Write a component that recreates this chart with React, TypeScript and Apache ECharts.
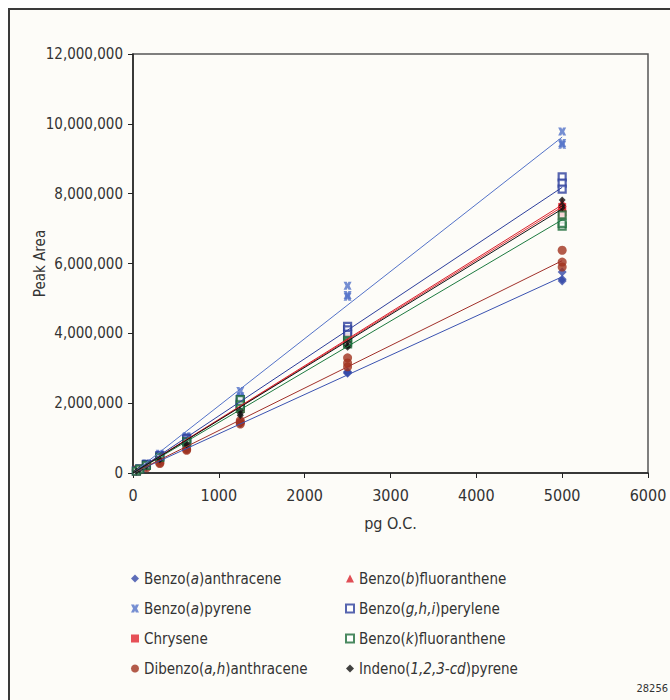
import React, { useEffect, useRef } from "react";
import * as echarts from "echarts";

const FONT = '"DejaVu Sans Condensed", "Liberation Sans Narrow", sans-serif';
const TEXT = "#333333";

// concentration levels (pg O.C.)
const levels = [39.06, 78.13, 156.25, 312.5, 625, 1250, 2500, 5000];
const xTickMax = 6000;
const yTickMax = 12000000;

// replicate peak areas per level, in millions
const anthraceneVals = [[0.045, 0.04], [0.085, 0.09], [0.17, 0.18], [0.34, 0.36, 0.35], [0.7, 0.72, 0.68], [1.42, 1.45, 1.43], [2.86, 2.9, 2.88], [5.76, 5.5, 5.55]];
const bFluorVals = [[0.06], [0.12], [0.23], [0.47], [0.95, 0.98], [1.9, 1.85], [3.88, 3.8, 3.75], [7.75, 7.6, 7.5]];
const pyreneVals = [[0.06], [0.13], [0.27, 0.25], [0.55, 0.52], [1.05, 1.0], [2.35, 2.2, 2.15], [5.36, 5.1, 5.05], [9.78, 9.45, 9.4]];
const peryleneVals = [[0.06], [0.12], [0.25, 0.24], [0.5, 0.48], [1.0, 0.97], [2.1, 2.0, 1.95], [4.2, 4.1, 3.97], [8.48, 8.3, 8.13]];
const chryseneVals = [[0.06], [0.12], [0.24], [0.47, 0.46], [0.95, 0.92], [1.95, 1.9, 1.85], [3.9, 3.85, 3.8], [7.62, 7.5, 7.4]];
const kFluorVals = [[0.05], [0.11], [0.22], [0.45], [0.9, 0.88], [2.1, 1.95, 1.85], [3.8, 3.75, 3.7], [7.39, 7.07, 7.15]];
const dibenzoVals = [[0.1, 0.08], [0.08], [0.15], [0.3, 0.27], [0.68, 0.65], [1.5, 1.45, 1.4], [3.3, 3.15, 3.04], [6.38, 6.04, 5.9]];
const indenoVals = [[0.05], [0.1], [0.2], [0.4, 0.38], [0.85, 0.8], [1.8, 1.7, 1.65], [3.75, 3.65, 3.6], [7.82, 7.67, 7.6]];

// fitted line value at 5000 pg, in millions
const fitEnds = {
  anthracene: 5.62,
  bFluor: 7.68,
  pyrene: 9.62,
  perylene: 8.18,
  chrysene: 7.62,
  kFluor: 7.25,
  dibenzo: 6.08,
  indeno: 7.56,
};

const xPath = "path://M0,0 L4,0 L5,2.5 L6,0 L10,0 L7.5,5 L10,10 L6,10 L5,7.5 L4,10 L0,10 L2.5,5 Z";

const seriesDefs = [
  { key: "anthracene", name: "Benzo(a)anthracene", rich: "{n|Benzo(}{i|a}{n|)anthracene}", vals: anthraceneVals, color: "#3448a8", line: "#3a52b0", symbol: "diamond", size: 9, hollow: false },
  { key: "pyrene", name: "Benzo(a)pyrene", rich: "{n|Benzo(}{i|a}{n|)pyrene}", vals: pyreneVals, color: "#5372c8", line: "#5372c8", symbol: xPath, size: 8, hollow: false },
  { key: "chrysene", name: "Chrysene", rich: "{n|Chrysene}", vals: chryseneVals, color: "#e0242e", line: "#e0303a", symbol: "rect", size: 8, hollow: false },
  { key: "dibenzo", name: "Dibenzo(a,h)anthracene", rich: "{n|Dibenzo(}{i|a,h}{n|)anthracene}", vals: dibenzoVals, color: "#a0321e", line: "#a0302a", symbol: "circle", size: 9, hollow: false },
  { key: "bFluor", name: "Benzo(b)fluoranthene", rich: "{n|Benzo(}{i|b}{n|)fluoranthene}", vals: bFluorVals, color: "#d8222c", line: "#d8222c", symbol: "triangle", size: 9, hollow: false },
  { key: "perylene", name: "Benzo(g,h,i)perylene", rich: "{n|Benzo(}{i|g,h,i}{n|)perylene}", vals: peryleneVals, color: "#2d3f9c", line: "#2d3f9c", symbol: "rect", size: 7, hollow: true },
  { key: "kFluor", name: "Benzo(k)fluoranthene", rich: "{n|Benzo(}{i|k}{n|)fluoranthene}", vals: kFluorVals, color: "#1d6b3a", line: "#1d7a40", symbol: "rect", size: 7, hollow: true },
  { key: "indeno", name: "Indeno(1,2,3-cd)pyrene", rich: "{n|Indeno(}{i|1,2,3-cd}{n|)pyrene}", vals: indenoVals, color: "#111111", line: "#111111", symbol: "diamond", size: 7, hollow: false },
];

const leftLegend = ["Benzo(a)anthracene", "Benzo(a)pyrene", "Chrysene", "Dibenzo(a,h)anthracene"];
const rightLegend = ["Benzo(b)fluoranthene", "Benzo(g,h,i)perylene", "Benzo(k)fluoranthene", "Indeno(1,2,3-cd)pyrene"];

const fmt = (v: number) => v.toLocaleString("en-US");

export default function App() {
  const ref = useRef<HTMLDivElement>(null);
  useEffect(() => {
    if (!ref.current) return;
    const chart = echarts.init(ref.current, undefined, { renderer: "svg" });
    const richMap: Record<string, string> = {};
    seriesDefs.forEach((s) => (richMap[s.name] = s.rich));
    const legendText = {
      color: TEXT,
      fontSize: 15,
      fontFamily: FONT,
      rich: {
        n: { fontSize: 15, fontFamily: FONT, color: TEXT },
        i: { fontSize: 15, fontFamily: FONT, color: TEXT, fontStyle: "italic" },
      },
    };
    const series: any[] = [];
    seriesDefs.forEach((s) => {
      series.push({
        type: "line",
        name: "fit " + s.key,
        data: [
          [0, 0],
          [5000, (fitEnds as any)[s.key] * 1e6],
        ],
        showSymbol: false,
        symbol: "none",
        lineStyle: { color: s.line, width: 1 },
        silent: true,
        z: 3,
      });
    });
    seriesDefs.forEach((s) => {
      const pts: number[][] = [];
      s.vals.forEach((reps, i) => reps.forEach((v) => pts.push([levels[i], v * 1e6])));
      series.push({
        type: "scatter",
        name: s.name,
        data: pts,
        symbol: s.symbol,
        symbolSize: s.size,
        itemStyle: s.hollow
          ? { color: "#ffffff", borderColor: s.color, borderWidth: 2.2 }
          : { color: s.color },
        z: 2,
      });
    });
    chart.setOption({
      animation: false,
      backgroundColor: "#fdfcf8",
      grid: { left: 125, right: 22, top: 46, bottom: 227, show: true, borderColor: "#555", borderWidth: 1.5, backgroundColor: "#fdfcf8" },
      xAxis: {
        type: "value",
        min: 0,
        max: xTickMax,
        interval: 1000,
        name: "pg O.C.",
        nameLocation: "middle",
        nameGap: 42,
        nameMoveOverlap: false,
        nameTextStyle: { color: TEXT, fontSize: 16, fontFamily: FONT },
        axisLine: { show: true, lineStyle: { color: "#222", width: 1.5 } },
        axisTick: { show: true, length: 5, lineStyle: { color: "#222" } },
        axisLabel: { color: TEXT, fontSize: 16, fontFamily: FONT, margin: 14, formatter: (v: number) => String(v) },
        splitLine: { show: false },
      },
      yAxis: {
        type: "value",
        min: 0,
        max: yTickMax,
        interval: 2000000,
        name: "Peak Area",
        nameLocation: "middle",
        nameGap: 86,
        nameMoveOverlap: false,
        nameTextStyle: { color: TEXT, fontSize: 15, fontFamily: FONT },
        axisLine: { show: true, lineStyle: { color: "#222", width: 1.5 } },
        axisTick: { show: true, length: 5, lineStyle: { color: "#222" } },
        axisLabel: { color: TEXT, fontSize: 15, fontFamily: FONT, margin: 10, formatter: (v: number) => fmt(v) },
        splitLine: { show: false },
      },
      legend: [
        {
          data: leftLegend,
          orient: "vertical",
          left: 118,
          top: 558,
          itemGap: 15,
          itemWidth: 8,
          itemHeight: 8,
          formatter: (n: string) => richMap[n],
          textStyle: legendText,
        },
        {
          data: rightLegend,
          orient: "vertical",
          left: 332,
          top: 558,
          itemGap: 15,
          itemWidth: 8,
          itemHeight: 8,
          formatter: (n: string) => richMap[n],
          textStyle: legendText,
        },
      ],
      graphic: [
        { type: "line", shape: { x1: 0, y1: 1, x2: 662, y2: 1 }, style: { stroke: "#3a3a3a", lineWidth: 2 } },
        { type: "line", shape: { x1: 1, y1: 0, x2: 1, y2: 692 }, style: { stroke: "#3a3a3a", lineWidth: 2 } },
        { type: "text", right: 2, top: 675, style: { text: "28256", fill: TEXT, fontSize: 11, fontFamily: FONT } },
      ],
      series,
    });
    return () => chart.dispose();
  }, []);
  return (
    <div
      ref={ref}
      style={{ position: "fixed", left: 8, top: 8, width: 662, height: 692 }}
    />
  );
}
